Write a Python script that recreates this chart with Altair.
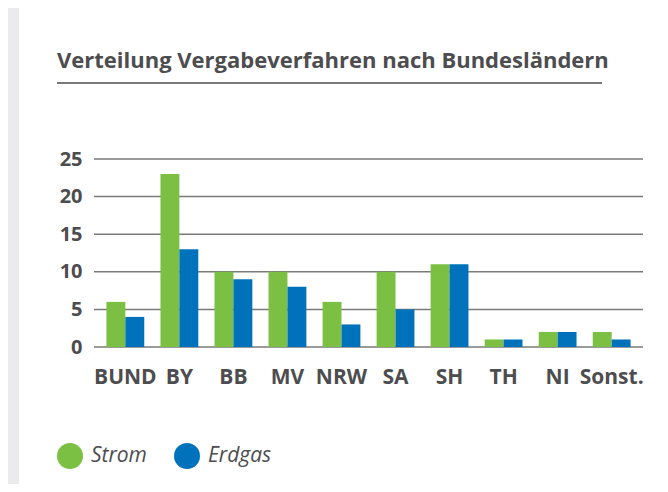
import altair as alt
import pandas as pd

states = ["BUND", "BY", "BB", "MV", "NRW", "SA", "SH", "TH", "NI", "Sonst."]
strom = [6, 23, 10, 10, 6, 10, 11, 1, 2, 2]
erdgas = [4, 13, 9, 8, 3, 5, 11, 1, 2, 1]
series = ["Strom", "Erdgas"]
colors = ["#7bc043", "#0072bc"]
y_ticks = [0, 5, 10, 15, 20, 25]
title_text = "Verteilung Vergabeverfahren nach Bundesländern"

rows = []
for i, s in enumerate(states):
    rows.append({"state": s, "series": "Strom", "value": strom[i]})
    rows.append({"state": s, "series": "Erdgas", "value": erdgas[i]})
df = pd.DataFrame(rows)

FONT = "Open Sans"
GRAY = "#4d4d4f"

yscale = alt.Scale(domain=[0, 25], nice=False)
yaxis = alt.Axis(values=y_ticks, domain=False, ticks=False, tickSize=0,
                 labelPadding=12, labelFont=FONT, labelFontSize=20,
                 labelFontWeight="bold", labelColor=GRAY,
                 grid=False, zindex=1)

panel = alt.Chart(alt.Data(values=[{}])).mark_rect(color="white").encode(
    x=alt.value(-75), x2=alt.value(570), y=alt.value(-160), y2=alt.value(330)
)

title = alt.Chart(alt.Data(values=[{"t": title_text}])).mark_text(
    align="left", baseline="alphabetic", font=FONT, fontSize=22,
    fontWeight="bold", color=GRAY
).encode(x=alt.value(-37), y=alt.value(-91), text="t:N")

underline = alt.Chart(alt.Data(values=[{}])).mark_rule(color=GRAY, strokeWidth=1.5).encode(
    x=alt.value(-37), x2=alt.value(508), y=alt.value(-76)
)

grid = alt.Chart(pd.DataFrame({"value": y_ticks})).mark_rule(color="#7a7a7a", strokeWidth=1.5).encode(
    y=alt.Y("value:Q", title=None, scale=yscale, axis=yaxis)
)

bars = alt.Chart(df).mark_bar().encode(
    x=alt.X("state:N", sort=states, title=None,
            scale=alt.Scale(paddingInner=0.3, paddingOuter=0.23),
            axis=alt.Axis(labelAngle=0, domain=False, ticks=False, tickSize=0,
                          labelPadding=19, labelFont=FONT, labelFontSize=21,
                          labelFontWeight="bold", labelColor=GRAY, grid=False,
                          zindex=1)),
    xOffset=alt.XOffset("series:N", sort=series,
                        scale=alt.Scale(paddingInner=0, paddingOuter=0)),
    y=alt.Y("value:Q", title=None, scale=yscale, axis=yaxis),
    color=alt.Color("series:N", sort=series,
                    scale=alt.Scale(domain=series, range=colors),
                    legend=alt.Legend(title=None, orient="none", legendX=-37, legendY=284,
                                      direction="horizontal", symbolType="circle",
                                      symbolSize=676, symbolStrokeWidth=0,
                                      labelFont=FONT, labelFontStyle="italic",
                                      labelFontSize=21, labelColor=GRAY,
                                      labelOffset=8, columnPadding=27)),
)

chart = alt.layer(panel, grid, title, underline, bars).properties(
    width=549,
    height=188,
    padding={"left": 86, "top": 151, "right": 17, "bottom": 137},
    autosize=alt.AutoSizeParams(type="none"),
    background="#ebebed",
).configure_view(stroke=None)

chart.save("out.html", embed_options={"renderer": "svg", "actions": False})
